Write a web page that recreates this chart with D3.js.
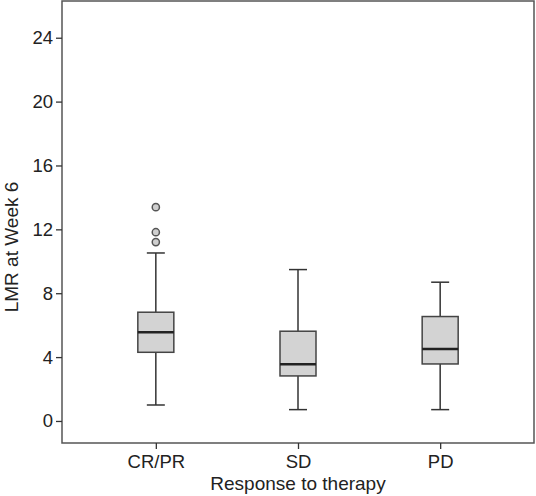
<!DOCTYPE html>
<html><head><meta charset="utf-8">
<script src="https://cdn.jsdelivr.net/npm/d3@7"></script>
<style>body{margin:0;background:#fff}svg{display:block}text{font-family:"Liberation Sans",Arial,sans-serif;fill:#222}</style>
</head><body>
<script>
const categories = ["CR/PR","SD","PD"];
const q1 = [4.30, 2.82, 3.57];
const medians = [5.56, 3.55, 4.51];
const q3 = [6.81, 5.62, 6.54];
const whiskerLow = [1.0, 0.71, 0.71];
const whiskerHigh = [10.52, 9.48, 8.69];
const outliers = [[13.39, 11.82, 11.2], [], []];
const yTicks = [0,4,8,12,16,20,24];

const W=536,H=496;
const mLeft=62,mRight=534,mTop=1,mBottom=443;
const svg=d3.select("body").append("svg").attr("width",W).attr("height",H);
const y=d3.scaleLinear().domain([-1.38,26.3]).range([mBottom,mTop]);
const x=d3.scalePoint().domain(categories).range([mLeft,mRight]).padding(0.66);

// frame
svg.append("rect").attr("x",mLeft).attr("y",mTop).attr("width",mRight-mLeft).attr("height",mBottom-mTop)
  .attr("fill","none").attr("stroke","#555").attr("stroke-width",1.5);

// y axis
const ya=svg.append("g").attr("transform",`translate(${mLeft},0)`)
  .call(d3.axisLeft(y).tickValues(yTicks).tickSize(6).tickPadding(3));
ya.select(".domain").remove();
ya.selectAll("line").attr("stroke","#333").attr("stroke-width",1.3);
ya.selectAll("text").style("font-size","18.5px").style("font-family","Liberation Sans, Arial, sans-serif").attr("fill","#222");

// x axis
const xa=svg.append("g").attr("transform",`translate(0,${mBottom})`)
  .call(d3.axisBottom(x).tickSize(6).tickPadding(6));
xa.select(".domain").remove();
xa.selectAll("line").attr("stroke","#333").attr("stroke-width",1.3);
xa.selectAll("text").style("font-size","18.5px").style("font-family","Liberation Sans, Arial, sans-serif").attr("fill","#222");

// titles
svg.append("text").attr("x",298).attr("y",490).attr("text-anchor","middle").style("font-size","19px").text("Response to therapy");
svg.append("text").attr("transform","translate(18,247) rotate(-90)").attr("text-anchor","middle").style("font-size","19px").text("LMR at Week 6");

// boxes
const bw=36, cw=18;
categories.forEach((c,i)=>{
  const cx=x(c);
  const g=svg.append("g");
  g.append("line").attr("x1",cx).attr("x2",cx).attr("y1",y(q3[i])).attr("y2",y(whiskerHigh[i])).attr("stroke","#333").attr("stroke-width",1.5);
  g.append("line").attr("x1",cx).attr("x2",cx).attr("y1",y(q1[i])).attr("y2",y(whiskerLow[i])).attr("stroke","#333").attr("stroke-width",1.5);
  [whiskerHigh[i],whiskerLow[i]].forEach(v=>{
    g.append("line").attr("x1",cx-cw/2).attr("x2",cx+cw/2).attr("y1",y(v)).attr("y2",y(v)).attr("stroke","#333").attr("stroke-width",1.5);
  });
  g.append("rect").attr("x",cx-bw/2).attr("y",y(q3[i])).attr("width",bw).attr("height",y(q1[i])-y(q3[i]))
    .attr("fill","#d3d3d3").attr("stroke","#444").attr("stroke-width",1.5);
  g.append("line").attr("x1",cx-bw/2).attr("x2",cx+bw/2).attr("y1",y(medians[i])).attr("y2",y(medians[i])).attr("stroke","#222").attr("stroke-width",2.5);
  outliers[i].forEach(v=>{
    g.append("circle").attr("cx",cx).attr("cy",y(v)).attr("r",3.6).attr("fill","#cfcfcf").attr("stroke","#555").attr("stroke-width",1.5);
  });
});
</script>
</body></html>
